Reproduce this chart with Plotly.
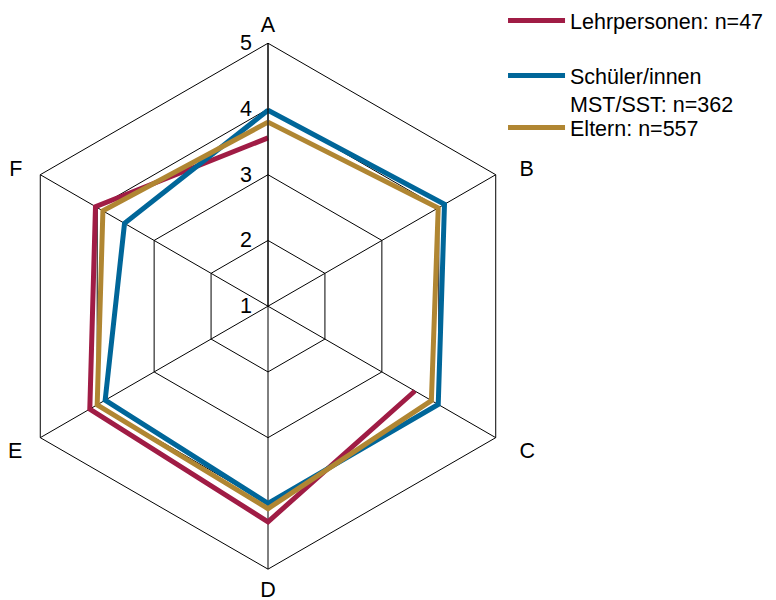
import plotly.graph_objects as go

categories = ["A", "B", "C", "D", "E", "F"]
category_labels = ["A", "\u00a0\u00a0\u00a0B", "\u00a0\u00a0\u00a0C", "D", "E\u00a0\u00a0", "F\u00a0\u00a0"]
series_names = ["Lehrpersonen: n=47", "Schüler/innen<br>MST/SST: n=362", "Eltern: n=557"]
lehrpersonen = [3.56, None, 3.58, 4.28, 4.13, 4.03]
schueler = [3.98, 4.10, 3.99, 4.00, 3.86, 3.52]
eltern = [3.80, 3.99, 3.87, 4.08, 4.00, 3.90]
colors = ["#A01C45", "#006699", "#B08632"]
radial_ticks = [1, 2, 3, 4, 5]

font = "Liberation Sans, Arial, sans-serif"
fs = 21.5

W, H = 776, 600
legend_ids = ["legend", "legend2", "legend3"]
legend_tops = [-1, 55, 107]  # px from top of page

fig = go.Figure()
for name, vals, col, lg in zip(series_names, [lehrpersonen, schueler, eltern], colors, legend_ids):
    fig.add_trace(go.Scatterpolar(
        r=vals + [vals[0]],
        theta=categories + [categories[0]],
        mode="lines",
        name=name,
        line=dict(color=col, width=5),
        connectgaps=False,
        legend=lg,
        showlegend=True,
    ))

cx, cy, R = 268, 305.7, 263.4
legend_common = dict(
    xanchor="left", yanchor="top", valign="top", itemwidth=57,
    font=dict(size=fs, family=font, color="black"),
    bgcolor="rgba(0,0,0,0)",
)
lx = 0.645 + 2.5 / W
fig.update_layout(
    width=W, height=H,
    showlegend=True,
    margin=dict(l=0, r=0, t=0, b=0),
    paper_bgcolor="white",
    font=dict(family=font, size=fs, color="black"),
    polar=dict(
        domain=dict(x=[(cx - R) / W, (cx + R) / W], y=[(H - cy - R) / H, (H - cy + R) / H]),
        gridshape="linear",
        bgcolor="white",
        radialaxis=dict(
            range=[1, 5], tickvals=radial_ticks, ticktext=[str(t) for t in radial_ticks],
            angle=90, side="counterclockwise", tickangle=90,
            showline=True, linecolor="black", linewidth=1,
            gridcolor="black", gridwidth=1,
            ticks="outside", ticklen=8, tickcolor="rgba(0,0,0,0)",
            tickfont=dict(size=fs, family=font, color="black"),
        ),
        angularaxis=dict(
            direction="clockwise", rotation=90,
            tickmode="array", tickvals=categories, ticktext=category_labels,
            showline=True, linecolor="black", linewidth=1,
            gridcolor="black", gridwidth=1,
            ticks="outside", ticklen=2, tickcolor="rgba(0,0,0,0)",
            tickfont=dict(size=fs, family=font, color="black"),
        ),
    ),
    legend=dict(x=lx, y=1 - legend_tops[0] / H, **legend_common),
    legend2=dict(x=lx, y=1 - legend_tops[1] / H, **legend_common),
    legend3=dict(x=lx, y=1 - legend_tops[2] / H, **legend_common),
)

fig.write_html("out.html", post_script="document.body.style.margin='0';",
               config={"displayModeBar": False})
